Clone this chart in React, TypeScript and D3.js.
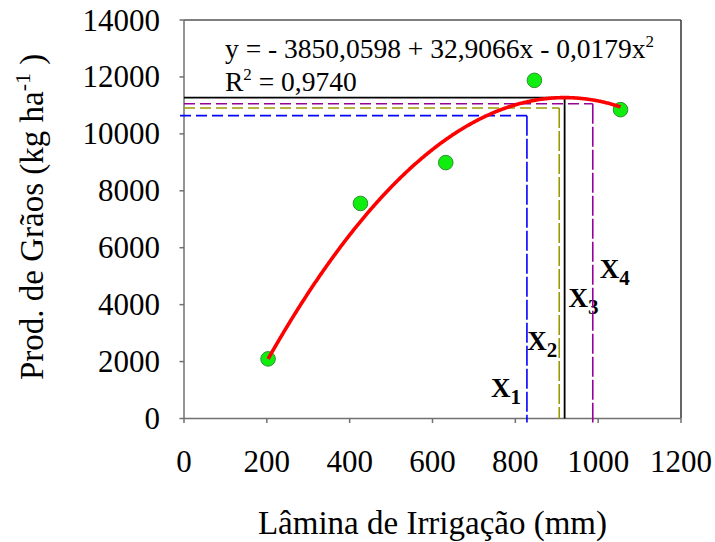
import React from "react";
import * as d3 from "d3";

// Data
const irrigation = [203, 426, 632, 846, 1054];
const yieldKg = [2095, 7555, 8990, 11880, 10850];
const coefA = -3850.0598;
const coefB = 32.9066;
const coefC = -0.0179;
const xTicks = [0, 200, 400, 600, 800, 1000, 1200];
const yTicks = [0, 2000, 4000, 6000, 8000, 10000, 12000, 14000];
const refNames = ["1", "2", "3", "4"];
const refX = [828, 906, 919, 987];
const refY = [10640, 10910, 11274, 11060];
const refColors = ["#0000ff", "#9a9a00", "#000000", "#990099"];
const refDashed = [true, true, false, true];
// label placement (pixel offset from the line, label baseline in px)
const refLabelDx = [-36, -32, 4, 7];
const refLabelY = [397, 350, 307, 278];

const W = 715;
const H = 542;
const FONT = "'Liberation Serif', 'Times New Roman', serif";

export default function App() {
  const x = d3.scaleLinear().domain([0, 1200]).range([184, 681]);
  const y = d3.scaleLinear().domain([0, 14000]).range([418.5, 20]);

  const fx = (v: number) => coefA + coefB * v + coefC * v * v;
  const xs = d3.range(irrigation[0], irrigation[irrigation.length - 1] + 0.001, 2);
  const curvePts: [number, number][] = xs.map((v) => [v, fx(v)]);
  curvePts.push([irrigation[irrigation.length - 1], fx(irrigation[irrigation.length - 1])]);
  const line = d3
    .line<[number, number]>()
    .x((d) => x(d[0]))
    .y((d) => y(d[1]))
    .curve(d3.curveLinear);

  const [x0, x1] = x.range();
  const [y0, y1] = y.range();

  return (
    <svg
      width={W}
      height={H}
      style={{ position: "absolute", left: 0, top: 0, background: "#fff", fontFamily: FONT }}
    >
      {/* frame */}
      <line x1={x0} x2={x1} y1={y1} y2={y1} stroke="#555" strokeWidth={1.5} />
      <line x1={x1} x2={x1} y1={y1} y2={y0} stroke="#333" strokeWidth={1.5} />
      <line x1={x0} x2={x0} y1={y1} y2={y0} stroke="#707070" strokeWidth={1.5} />
      <line x1={x0} x2={x1} y1={y0} y2={y0} stroke="#707070" strokeWidth={1.5} />

      {/* y ticks */}
      {yTicks.map((t) => (
        <g key={"y" + t}>
          <line x1={x0 - 4.5} x2={x0} y1={y(t)} y2={y(t)} stroke="#707070" strokeWidth={1.5} />
          <text x={160} y={y(t) + 10.5} textAnchor="end" fontSize={31} fill="#000">
            {t}
          </text>
        </g>
      ))}
      {/* x ticks */}
      {xTicks.map((t) => (
        <g key={"x" + t}>
          <line x1={x(t)} x2={x(t)} y1={y0} y2={y0 + 4.5} stroke="#707070" strokeWidth={1.5} />
          <text x={x(t)} y={471.5} textAnchor="middle" fontSize={31} fill="#000">
            {t}
          </text>
        </g>
      ))}

      {/* reference lines */}
      {refX.map((rx, i) => (
        <g key={"r" + i}>
          <line
            x1={i === 0 ? x0 - 4 : x0}
            x2={x(rx)}
            y1={y(refY[i])}
            y2={y(refY[i])}
            stroke={refColors[i]}
            strokeWidth={refDashed[i] ? 1.6 : 1.8}
            strokeDasharray={refDashed[i] ? "11,5" : undefined}
          />
          <line
            x1={x(rx)}
            x2={x(rx)}
            y1={y(refY[i])}
            y2={refDashed[i] && i !== 1 ? y0 + 4 : y0}
            stroke={refColors[i]}
            strokeWidth={refDashed[i] ? 1.6 : 1.8}
            strokeDasharray={refDashed[i] ? "20,3" : undefined}
          />
          <text
            x={x(rx) + refLabelDx[i]}
            y={refLabelY[i]}
            fontSize={27}
            fontWeight="bold"
            fill="#000"
          >
            X
            <tspan fontSize={21} dy={7}>
              {refNames[i]}
            </tspan>
          </text>
        </g>
      ))}

      {/* points */}
      {irrigation.map((v, i) => (
        <circle
          key={"p" + i}
          cx={x(v)}
          cy={y(yieldKg[i])}
          r={7.3}
          fill="#10ee10"
          stroke="#2f8f2f"
          strokeWidth={1}
        />
      ))}

      {/* fitted curve */}
      <path d={line(curvePts) || ""} fill="none" stroke="#ff0000" strokeWidth={3.6} />

      {/* equation */}
      <text x={225} y={58.3} fontSize={27.5} fill="#000">
        y = - 3850,0598 + 32,9066x - 0,0179x
        <tspan fontSize={17} dy={-11}>
          2
        </tspan>
      </text>
      <text x={225} y={90.7} fontSize={27.5} fill="#000">
        R
        <tspan fontSize={17} dy={-11}>
          2
        </tspan>
        <tspan dy={11}> = 0,9740</tspan>
      </text>

      {/* axis titles */}
      <text x={(x0 + x1) / 2} y={534} textAnchor="middle" fontSize={33} fill="#000">
        Lâmina de Irrigação (mm)
      </text>
      <text transform="translate(43,380) rotate(-90)" textAnchor="start" fontSize={33} fill="#000">
        Prod. de Grãos (kg ha
        <tspan fontSize={22} dy={-13}>
          -1
        </tspan>
        <tspan dy={13}> )</tspan>
      </text>
    </svg>
  );
}
